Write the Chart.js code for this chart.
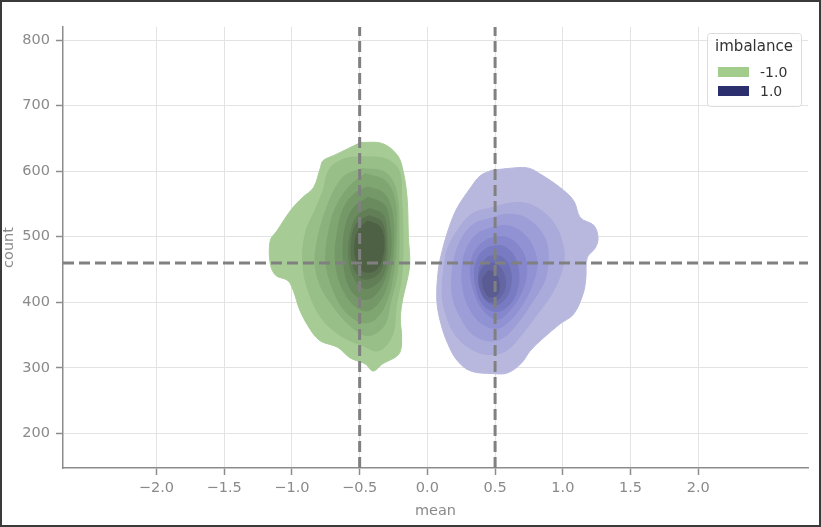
<!DOCTYPE html>
<html>
<head>
<meta charset="utf-8">
<script src="https://cdn.jsdelivr.net/npm/chart.js@4"></script>
<style>
html, body { margin: 0; padding: 0; background: #fff; }
#frame { width: 821px; height: 527px; box-sizing: border-box; border: 2px solid #3a3a3a; }
#chart { display: block; }
</style>
</head>
<body>
<div id="frame"><canvas id="chart" width="817" height="523"></canvas></div>
<script>
// axis ticks
const X_TICKS = [-2.0, -1.5, -1.0, -0.5, 0.0, 0.5, 1.0, 1.5, 2.0];
const Y_TICKS = [200, 300, 400, 500, 600, 700, 800];

// reference lines (dashed)
const MEAN_LINES = [-0.5, 0.5];
const COUNT_LINE = 460;

// legend
const HUE_TITLE = 'imbalance';
const HUE_LABELS = ['-1.0', '1.0'];
const HUE_COLORS = ['#a2cd8c', '#2b2f6e'];

// KDE contour levels for imbalance = -1.0, outer -> inner, [mean, count]
const NEG_CONTOURS = [
  [[-0.49,644],[-0.33,642],[-0.22,624],[-0.18,601],[-0.15,560],[-0.14,499],[-0.13,459],[-0.15,433],[-0.18,407],[-0.20,376],[-0.19,346],[-0.21,321],[-0.33,306],[-0.40,295],[-0.46,306],[-0.57,315],[-0.66,331],[-0.79,341],[-0.86,357],[-0.94,387],[-0.99,418],[-1.03,433],[-1.12,441],[-1.16,459],[-1.16,494],[-1.11,509],[-1.01,540],[-0.92,560],[-0.84,575],[-0.79,605],[-0.77,616],[-0.69,624],[-0.59,634]],
  [[-0.49,622],[-0.31,619],[-0.21,601],[-0.19,555],[-0.18,494],[-0.19,440],[-0.23,395],[-0.26,349],[-0.36,326],[-0.48,334],[-0.64,349],[-0.78,375],[-0.88,418],[-0.92,460],[-0.90,506],[-0.83,540],[-0.77,570],[-0.72,604],[-0.61,619]],
  [[-0.48,604],[-0.31,598],[-0.23,570],[-0.21,509],[-0.22,448],[-0.27,402],[-0.32,364],[-0.44,349],[-0.57,364],[-0.70,395],[-0.79,425],[-0.83,463],[-0.80,506],[-0.75,540],[-0.69,570],[-0.61,593]],
  [[-0.46,596],[-0.31,585],[-0.24,555],[-0.23,494],[-0.25,445],[-0.30,402],[-0.38,375],[-0.48,369],[-0.61,387],[-0.70,421],[-0.75,463],[-0.73,506],[-0.68,543],[-0.58,576]],
  [[-0.44,576],[-0.32,566],[-0.26,537],[-0.25,486],[-0.28,440],[-0.34,405],[-0.44,387],[-0.55,397],[-0.64,427],[-0.68,466],[-0.66,512],[-0.61,547],[-0.53,567]],
  [[-0.44,560],[-0.32,549],[-0.28,521],[-0.27,479],[-0.31,439],[-0.39,410],[-0.49,405],[-0.58,425],[-0.62,466],[-0.61,509],[-0.55,543]],
  [[-0.43,543],[-0.33,534],[-0.30,506],[-0.30,466],[-0.34,436],[-0.45,421],[-0.53,433],[-0.58,466],[-0.57,503],[-0.52,531]],
  [[-0.43,532],[-0.34,523],[-0.31,497],[-0.32,463],[-0.37,442],[-0.48,436],[-0.55,457],[-0.56,494],[-0.52,521]],
  [[-0.44,524],[-0.35,515],[-0.32,491],[-0.34,463],[-0.39,448],[-0.48,448],[-0.53,469],[-0.53,497],[-0.49,515]]
];

// KDE contour levels for imbalance = 1.0, outer -> inner, [mean, count]
const POS_CONTOURS = [
  [[0.47,601],[0.59,604],[0.74,605],[0.83,596],[0.98,575],[1.08,555],[1.13,529],[1.23,517],[1.26,498],[1.24,483],[1.18,468],[1.17,437],[1.15,413],[1.08,382],[0.98,367],[0.86,346],[0.76,326],[0.69,306],[0.59,292],[0.49,291],[0.32,295],[0.22,311],[0.15,337],[0.10,367],[0.07,402],[0.08,448],[0.11,479],[0.16,514],[0.22,544],[0.32,575],[0.39,593]],
  [[0.47,544],[0.58,550],[0.70,552],[0.81,544],[0.91,527],[0.98,502],[1.01,471],[0.98,440],[0.91,410],[0.80,379],[0.69,349],[0.58,326],[0.45,320],[0.32,329],[0.21,349],[0.14,379],[0.11,410],[0.12,448],[0.15,482],[0.23,512],[0.33,535]],
  [[0.45,527],[0.58,534],[0.70,531],[0.81,515],[0.88,491],[0.89,460],[0.86,430],[0.77,399],[0.67,369],[0.56,346],[0.45,341],[0.33,352],[0.25,375],[0.19,405],[0.18,440],[0.21,476],[0.27,503],[0.35,520]],
  [[0.45,512],[0.58,517],[0.69,508],[0.77,488],[0.81,460],[0.78,430],[0.71,399],[0.61,372],[0.51,360],[0.39,369],[0.30,395],[0.26,425],[0.26,460],[0.30,486],[0.37,505]],
  [[0.45,497],[0.56,500],[0.65,491],[0.72,469],[0.73,440],[0.69,413],[0.61,388],[0.52,374],[0.42,386],[0.35,413],[0.32,440],[0.33,468],[0.38,486]],
  [[0.45,484],[0.55,486],[0.63,474],[0.67,452],[0.67,426],[0.62,400],[0.52,386],[0.42,394],[0.36,422],[0.35,452],[0.39,474]],
  [[0.45,470],[0.54,470],[0.60,456],[0.62,434],[0.59,410],[0.51,396],[0.43,404],[0.38,428],[0.39,455]],
  [[0.45,460],[0.52,457],[0.57,440],[0.57,419],[0.52,404],[0.45,401],[0.40,415],[0.38,436],[0.41,453]],
  [[0.45,448],[0.50,445],[0.53,430],[0.52,413],[0.46,408],[0.42,419],[0.41,436]]
];

const NEG_FILLS = ['#a6cb95', '#98bf88', '#8bb27c', '#7fa571', '#749867', '#6a8b5e', '#617e56', '#58704e', '#4e6145'];
const POS_FILLS = ['#b8b8df', '#aaaadb', '#9d9ed7', '#9192d3', '#8586cc', '#797bc2', '#6e70b4', '#6466a4', '#595b92'];

const GRAY = '#8a8a8a';
const FONT = 'DejaVu Sans';

function contourDatasets(levels, fills, name) {
  return levels.map((poly, i) => ({
    label: name + ' level ' + (i + 1),
    data: poly.concat([poly[0]]).map(p => ({ x: p[0], y: p[1] })),
    showLine: true,
    fill: 'shape',
    backgroundColor: fills[i],
    borderColor: fills[i],
    borderWidth: 1,
    pointRadius: 0,
    tension: 0.35,
    order: 100 - i
  }));
}

const refLines = {
  id: 'refLines',
  afterDatasetsDraw(chart) {
    const { ctx, chartArea: a, scales: { x, y } } = chart;
    ctx.save();
    ctx.strokeStyle = '#808080';
    ctx.lineWidth = 3;
    ctx.setLineDash([11, 5]);
    ctx.beginPath();
    const yy = y.getPixelForValue(COUNT_LINE);
    ctx.moveTo(a.left, yy);
    ctx.lineTo(a.right, yy);
    MEAN_LINES.forEach(v => {
      const xx = x.getPixelForValue(v);
      ctx.moveTo(xx, a.bottom);
      ctx.lineTo(xx, a.top);
    });
    ctx.stroke();
    ctx.restore();
  }
};

const hueLegend = {
  id: 'hueLegend',
  afterDraw(chart) {
    const { ctx, chartArea: a } = chart;
    const bx = a.right - 101, by = a.top + 6, bw = 94, bh = 73;
    ctx.save();
    ctx.fillStyle = 'rgba(255,255,255,0.8)';
    ctx.strokeStyle = '#dcdcdc';
    ctx.lineWidth = 1;
    ctx.beginPath();
    ctx.roundRect(bx + 0.5, by + 0.5, bw, bh, 3);
    ctx.fill();
    ctx.stroke();

    ctx.fillStyle = '#333';
    ctx.textBaseline = 'middle';
    ctx.textAlign = 'center';
    ctx.font = '15px "' + FONT + '"';
    ctx.fillText(HUE_TITLE, bx + bw / 2, by + 14);

    ctx.font = '14px "' + FONT + '"';
    ctx.textAlign = 'left';
    HUE_LABELS.forEach((lab, i) => {
      const cy = by + 39 + i * 19;
      ctx.fillStyle = HUE_COLORS[i];
      ctx.fillRect(bx + 11, cy - 5, 31, 10);
      ctx.fillStyle = '#333';
      ctx.fillText(lab, bx + 53, cy + 1);
    });
    ctx.restore();
  }
};

const fmtX = v => (v < 0 ? '\u2212' : '') + Math.abs(v).toFixed(1);

new Chart(document.getElementById('chart'), {
  type: 'scatter',
  data: {
    datasets: [
      ...contourDatasets(NEG_CONTOURS, NEG_FILLS, '-1.0'),
      ...contourDatasets(POS_CONTOURS, POS_FILLS, '1.0')
    ]
  },
  plugins: [refLines, hueLegend],
  options: {
    responsive: false,
    animation: false,
    layout: { padding: { top: 25, right: 11, left: 0, bottom: 0 } },
    plugins: { legend: { display: false }, tooltip: { enabled: false } },
    scales: {
      x: {
        type: 'linear',
        min: -2.69,
        max: 2.81,
        afterBuildTicks: s => { s.ticks = X_TICKS.map(v => ({ value: v })); },
        afterFit: s => { s.height = 57; },
        ticks: {
          color: GRAY,
          font: { family: FONT, size: 14.5 },
          padding: 5,
          maxRotation: 0,
          autoSkip: false,
          callback: v => fmtX(v)
        },
        grid: { color: '#e3e3e3', lineWidth: 1, tickLength: 7, tickColor: '#8c8c8c', tickWidth: 1.5 },
        border: { display: true, color: '#8c8c8c', width: 1.5 },
        title: {
          display: true, text: 'mean', color: GRAY,
          font: { family: FONT, size: 14.5, lineHeight: 1 },
          padding: { top: 0, bottom: 7 }
        }
      },
      y: {
        type: 'linear',
        min: 147,
        max: 820,
        afterBuildTicks: s => { s.ticks = Y_TICKS.map(v => ({ value: v })); },
        afterFit: s => { s.width = 61; },
        ticks: {
          color: GRAY,
          font: { family: FONT, size: 14.5 },
          padding: 6,
          autoSkip: false,
          callback: v => String(v)
        },
        grid: { color: '#e3e3e3', lineWidth: 1, tickLength: 7, tickColor: '#8c8c8c', tickWidth: 1.5 },
        border: { display: true, color: '#8c8c8c', width: 1.5 },
        title: {
          display: true, text: 'count', color: GRAY,
          font: { family: FONT, size: 14.5, lineHeight: 1 },
          padding: { top: 0, bottom: 0 }
        }
      }
    }
  }
});
</script>
</body>
</html>
